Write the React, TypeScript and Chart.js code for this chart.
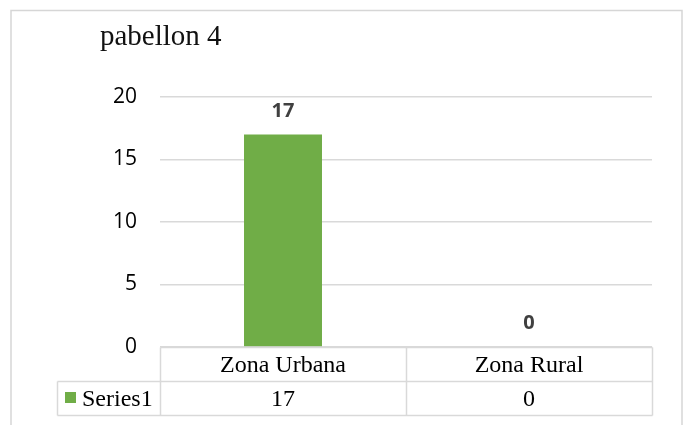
import React, { useEffect, useRef } from "react";
import { Chart, registerables } from "chart.js";

Chart.register(...registerables);

const chartTitle = "pabellon 4";
const categories = ["Zona Urbana", "Zona Rural"];
const seriesName = "Series1";
const seriesValues = [17, 0];
const yMin = 0;
const yMax = 20;
const yStep = 5;

const BAR_COLOR = "#70AD47";
const GRID_COLOR = "#d9d9d9";

const decorPlugin = {
  id: "decor",
  afterDraw(chart: any) {
    const ctx = chart.ctx;
    const area = chart.chartArea;
    const xs = chart.scales.x;
    ctx.save();

    // outer border
    ctx.strokeStyle = "#d6d6d6";
    ctx.lineWidth = 1.5;
    ctx.strokeRect(11, 10.5, 671, 440);

    // title
    ctx.fillStyle = "#111";
    ctx.font = '29px "Liberation Serif"';
    ctx.textAlign = "left";
    ctx.textBaseline = "alphabetic";
    ctx.fillText(chartTitle, 100, 45);

    // data labels
    const meta = chart.getDatasetMeta(0);
    ctx.font = 'bold 20px "Open Sans"';
    ctx.fillStyle = "#404040";
    ctx.textAlign = "center";
    meta.data.forEach((el: any, i: number) => {
      ctx.fillText(String(seriesValues[i]), el.x, el.y - 18);
    });

    // data table
    const top = Math.round(area.bottom) + 0.5;
    const rowH = 34;
    const mid = top + rowH;
    const bot = mid + rowH;
    const left = Math.round(area.left) + 0.5;
    const right = Math.round(area.right) + 0.5;
    const keyLeft = 57.5;
    ctx.strokeStyle = GRID_COLOR;
    ctx.lineWidth = 1.5;
    ctx.beginPath();
    ctx.moveTo(left, top); ctx.lineTo(right, top);
    ctx.moveTo(keyLeft, mid); ctx.lineTo(right, mid);
    ctx.moveTo(keyLeft, bot); ctx.lineTo(right, bot);
    ctx.moveTo(keyLeft, mid); ctx.lineTo(keyLeft, bot);
    ctx.moveTo(left, top); ctx.lineTo(left, bot);
    ctx.moveTo(right, top); ctx.lineTo(right, bot);
    for (let i = 0; i < categories.length - 1; i++) {
      const d = Math.round((xs.getPixelForValue(i) + xs.getPixelForValue(i + 1)) / 2) + 0.5;
      ctx.moveTo(d, top); ctx.lineTo(d, bot);
    }
    ctx.stroke();

    ctx.fillStyle = "#000";
    ctx.font = '24px "Liberation Serif"';
    ctx.textAlign = "center";
    ctx.textBaseline = "middle";
    categories.forEach((c, i) => {
      const cx = xs.getPixelForValue(i);
      ctx.fillText(c, cx, top + rowH / 2 + 1);
      ctx.fillText(String(seriesValues[i]), cx, mid + rowH / 2 + 1);
    });

    // legend key
    ctx.fillStyle = BAR_COLOR;
    ctx.fillRect(65, 392, 11, 11);
    ctx.fillStyle = "#000";
    ctx.textAlign = "left";
    ctx.fillText(seriesName, 82, mid + rowH / 2 + 1);

    ctx.restore();
  },
};

export default function App() {
  const ref = useRef<HTMLCanvasElement | null>(null);
  useEffect(() => {
    if (!ref.current) return;
    const chart = new Chart(ref.current, {
      type: "bar",
      data: {
        labels: categories,
        datasets: [
          {
            label: seriesName,
            data: seriesValues,
            backgroundColor: BAR_COLOR,
            borderWidth: 0,
            categoryPercentage: 1,
            barPercentage: 0.317,
          },
        ],
      },
      options: {
        animation: false,
        responsive: false,
        devicePixelRatio: 1,
        layout: { padding: { top: 97, left: 0, right: 37, bottom: 78 } },
        plugins: {
          legend: { display: false },
          tooltip: { enabled: false },
          title: { display: false },
        },
        scales: {
          x: { display: false },
          y: {
            min: yMin,
            max: yMax,
            ticks: {
              stepSize: yStep,
              padding: 23,
              color: "#000",
              font: { family: "Open Sans", size: 21 },
            },
            grid: { color: GRID_COLOR, lineWidth: 1.5, drawTicks: false },
            border: { display: false },
            afterFit: (s: any) => {
              s.width = 160;
            },
          },
        },
      },
      plugins: [decorPlugin],
    });
    return () => chart.destroy();
  }, []);
  return (
    <div style={{ position: "fixed", left: 0, top: 0, width: 689, height: 425, background: "#fff" }}>
      <canvas ref={ref} width={689} height={425} style={{ width: 689, height: 425, display: "block" }} />
    </div>
  );
}
